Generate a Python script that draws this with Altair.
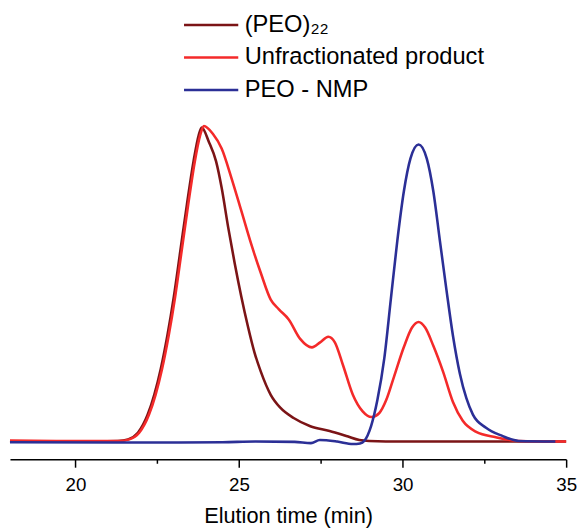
import altair as alt
import pandas as pd

# (PEO)22
peo22_x = [18.0, 20.0, 21.30, 21.61, 21.91, 22.21, 22.41, 22.61, 22.81, 23.01, 23.21, 23.41,
           23.61, 23.77, 23.86, 24.08, 24.30, 24.47, 24.67, 24.87, 25.07, 25.27, 25.47, 25.67,
           25.97, 26.27, 26.67, 27.18, 27.77, 28.28, 28.68, 28.98, 30.0, 32.0, 35.0]
peo22_y = [0.0, 0.0, 0.2, 0.7, 2.8, 8.6, 14.9, 23.2, 33.7, 46.2, 60.9, 75.6,
           89.2, 97.6, 100.0, 95.4, 89.2, 80.8, 68.2, 56.7, 46.2, 36.8, 28.5, 22.2,
           14.9, 10.7, 7.5, 4.9, 3.4, 1.8, 0.5, 0.2, 0.0, 0.0, 0.0]

# Unfractionated product
unfr_x = [18.0, 20.0, 21.34, 21.65, 21.95, 22.25, 22.45, 22.65, 22.85, 23.05, 23.25, 23.45,
          23.65, 23.81, 23.93, 24.20, 24.47, 24.77, 25.07, 25.37, 25.67, 25.97, 26.22, 26.52,
          26.87, 27.23, 27.48, 27.73, 27.93, 28.18, 28.48, 28.78, 29.05, 29.29, 29.50, 29.74,
          30.04, 30.29, 30.49, 30.69, 30.94, 31.24, 31.54, 31.84, 32.25, 32.85, 33.55, 35.0]
unfr_y = [0.3, 0.2, 0.2, 0.7, 2.8, 8.6, 14.9, 23.2, 33.7, 46.2, 60.9, 75.6,
          89.2, 97.4, 100.5, 98.0, 93.3, 83.9, 73.5, 63.0, 53.6, 45.2, 42.1, 38.9,
          32.7, 30.0, 31.6, 33.4, 31.6, 24.3, 14.9, 9.6, 7.8, 9.1, 13.2, 20.7,
          30.1, 36.3, 38.1, 36.3, 30.5, 22.2, 12.6, 6.6, 3.1, 1.4, 0.2, 0.0]

# PEO - NMP
nmp_x = [18.0, 21.3, 22.5, 24.5, 25.5, 26.7, 27.2, 27.47, 28.0, 28.48, 28.7, 28.83,
         29.04, 29.23, 29.44, 29.64, 29.84, 30.04, 30.24, 30.49, 30.74, 30.94, 31.14, 31.34,
         31.54, 31.75, 31.95, 32.15, 32.55, 33.05, 33.55, 34.67]
nmp_y = [-0.2, -0.3, -0.3, -0.2, 0.0, -0.1, -0.5, 0.5, 0.0, -0.8, -0.6, 0.2,
         5.0, 13.2, 26.4, 45.2, 64.0, 79.7, 90.1, 94.6, 90.1, 79.7, 64.0, 48.4,
         33.7, 21.7, 13.8, 8.6, 4.4, 1.8, 0.2, 0.0]

series_names = ["(PEO)\u2082\u2082", "Unfractionated product", "PEO - NMP"]
series_colors = ["#7B1416", "#F42A2A", "#2B2F96"]
x_ticks = [20, 22.5, 25, 27.5, 30, 32.5, 35]

rows = []
for name, xs, ys in zip(series_names, [peo22_x, unfr_x, nmp_x], [peo22_y, unfr_y, nmp_y]):
    for i, (x, y) in enumerate(zip(xs, ys)):
        rows.append({"series": name, "t": x, "v": y, "i": i})
df = pd.DataFrame(rows)

font = "Liberation Sans"

chart = alt.Chart(df).mark_line(strokeWidth=2.6, interpolate="monotone").encode(
    x=alt.X("t:Q",
            scale=alt.Scale(domain=[18, 35], nice=False, zero=False),
            axis=alt.Axis(values=x_ticks, title="Elution time (min)",
                          labelExpr="datum.value % 5 === 0 ? datum.label : ''",
                          tickSize={"condition": {"test": "datum.value % 5 === 0", "value": 8}, "value": 4},
                          labelFlush=False, grid=False)),
    y=alt.Y("v:Q", scale=alt.Scale(domain=[-5.65, 136.9], nice=False, zero=False), axis=None),
    color=alt.Color("series:N",
                    scale=alt.Scale(domain=series_names, range=series_colors),
                    sort=series_names,
                    legend=alt.Legend(title=None, orient="none", legendX=175, legendY=-3,
                                      symbolType="stroke", symbolSize=3025,
                                      symbolStrokeWidth=2.6, labelFontSize=24,
                                      labelFont=font, labelColor="black",
                                      clipHeight=33, rowPadding=0,
                                      labelOffset=5, labelLimit=400)),
    order=alt.Order("i:Q"),
).properties(
    width=564,
    height=454,
    padding={"left": 2, "top": 0, "right": 11, "bottom": 67},
    autosize=alt.AutoSizeParams(type="none"),
).configure_view(
    stroke=None
).configure_axis(
    domainColor="black", domainWidth=1.5, tickColor="black", tickWidth=1.5,
    labelFont=font, labelFontSize=19, labelColor="black", labelPadding=9,
    titleFont=font, titleFontSize=22, titleFontWeight="normal", titleColor="black",
    titlePadding=11
)

chart.save("out.html", embed_options={"renderer": "svg", "actions": False})
